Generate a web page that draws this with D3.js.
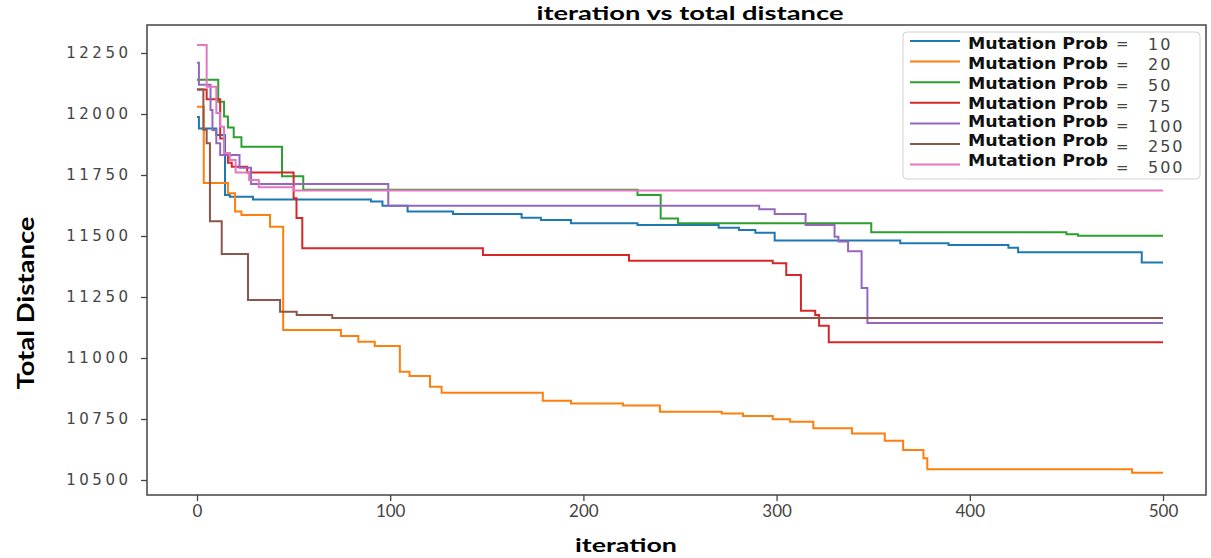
<!DOCTYPE html>
<html>
<head>
<meta charset="utf-8">
<script src="https://cdn.jsdelivr.net/npm/d3@7"></script>
<style>
  body { margin: 0; background: #fff; }
  svg { display: block; }
</style>
</head>
<body>
<div id="chart-area"></div>
<script>
// best total distance per run, as [iteration, distance] at each step down
const mp10 = [[0,11988],[1,11941],[10,11914],[14.5,11668],[17,11661],[29,11650],[90,11641],[96,11624],[109,11600],[132.5,11590],[168,11575],[178,11566],[193.6,11552],[228,11545],[270,11534],[280.5,11525],[289,11513],[299,11482],[364,11470],[389,11463],[420,11452],[425,11433],[489,11391],[500,11391]];
const mp20 = [[0,12030],[3.5,11717],[16,11675],[19.7,11600],[23,11586],[37.8,11538],[44.6,11115],[74.5,11090],[83.5,11067],[92,11049],[105,10944],[110,10926],[120.6,10882],[126.6,10858],[179,10825],[193.6,10814],[220.5,10805],[239.6,10780],[271.6,10773],[282.6,10762],[298,10749],[307,10739],[319,10712],[339,10691],[356,10661],[365.5,10623],[376,10589],[378,10544],[484,10530],[500,10530]];
const mp50 = [[0,12140],[11,12050],[14,11990],[16,11945],[19,11905],[23,11866],[44,11745],[55,11690],[228,11668],[240,11572],[249,11552],[349,11515],[450,11507],[456,11501],[500,11501]];
const mp75 = [[0,12100],[5,12060],[12,11900],[14,11840],[16,11800],[18,11784],[26,11760],[50,11655],[51.5,11574],[54.5,11450],[148,11422],[223.6,11399],[298,11388],[305,11340],[312.6,11194],[320,11176],[322,11132],[327,11065],[500,11065]];
const mp100 = [[0,12210],[1,12120],[7,12016],[8,11934],[10,11880],[12,11832],[22,11780],[28,11713],[99,11624],[291,11610],[299,11590],[315,11545],[330,11497],[332,11477],[337,11438],[344,11287],[347,11143],[500,11143]];
const mp250 = [[0,12100],[3.3,11935],[5,11880],[6.7,11560],[12.8,11426],[26.4,11238],[43,11190],[51.6,11176],[70,11164],[500,11164]];
const mp500 = [[0,12283],[5,12112],[10,12004],[12,11948],[14,11840],[17,11811],[20,11760],[27,11730],[32,11700],[50,11686],[500,11686]];

const series = [mp10, mp20, mp50, mp75, mp100, mp250, mp500];
const probs = [10, 20, 50, 75, 100, 250, 500];

const xTicks = [0, 100, 200, 300, 400, 500];
const yTicks = [10500, 10750, 11000, 11250, 11500, 11750, 12000, 12250];

const W = 1211, H = 558;
const frame = {left: 147, top: 25, right: 1206, bottom: 495};

const svg = d3.select("#chart-area")
  .append("svg")
    .attr("width", W)
    .attr("height", H);

svg.append("rect").attr("width", W).attr("height", H).attr("fill", "#fff");

const x = d3.scaleLinear().domain([0, 500]).range([197, 1163]);
const y = d3.scaleLinear().domain([10500, 12250]).range([480, 53]);

const colours = d3.scaleOrdinal().domain(probs).range(d3.schemeCategory10);

svg.append("clipPath").attr("id", "plot-clip")
  .append("rect")
    .attr("x", frame.left).attr("y", frame.top)
    .attr("width", frame.right - frame.left)
    .attr("height", frame.bottom - frame.top);

// lines
const line = d3.line()
  .curve(d3.curveStepAfter)
  .x(d => x(d[0]))
  .y(d => y(d[1]));

svg.append("g")
  .attr("clip-path", "url(#plot-clip)")
  .selectAll("path")
  .data(series)
  .join("path")
    .attr("d", line)
    .attr("fill", "none")
    .attr("stroke", (d, i) => colours(probs[i]))
    .attr("stroke-width", 2)
    .attr("stroke-linejoin", "miter");

// Y axis
const yAxis = svg.append("g")
  .attr("transform", `translate(${frame.left},0)`)
  .call(d3.axisLeft(y).tickValues(yTicks).tickSize(6).tickPadding(9.5).tickFormat(d3.format("d")));
yAxis.select(".domain").remove();
yAxis.selectAll("line").attr("stroke", "#444").attr("stroke-width", 1.3);
yAxis.selectAll("text")
  .attr("font-family", "DejaVu Sans")
  .attr("font-size", 15)
  .attr("letter-spacing", "3.5px")
  .attr("fill", "#444");

// X axis
const xAxis = svg.append("g")
  .attr("transform", `translate(0,${frame.bottom})`)
  .call(d3.axisBottom(x).tickValues(xTicks).tickSize(6).tickPadding(4));
xAxis.select(".domain").remove();
xAxis.selectAll("line").attr("stroke", "#444").attr("stroke-width", 1.3);
xAxis.selectAll("text")
  .attr("font-family", "Lato")
  .attr("font-size", 17)
  .attr("fill", "#444");

// frame
svg.append("rect")
  .attr("x", frame.left).attr("y", frame.top)
  .attr("width", frame.right - frame.left)
  .attr("height", frame.bottom - frame.top)
  .attr("fill", "none")
  .attr("stroke", "#444")
  .attr("stroke-width", 1.5);

// titles
svg.append("text")
  .attr("x", 690).attr("y", 20)
  .attr("text-anchor", "middle")
  .attr("font-family", "Lato")
  .attr("font-weight", "bold")
  .attr("font-size", 18)
  .attr("textLength", 307)
  .attr("lengthAdjust", "spacingAndGlyphs")
  .text("iteration vs total distance");

svg.append("text")
  .attr("x", 626).attr("y", 552)
  .attr("text-anchor", "middle")
  .attr("font-family", "Lato")
  .attr("font-weight", "bold")
  .attr("font-size", 18)
  .attr("textLength", 102)
  .attr("lengthAdjust", "spacingAndGlyphs")
  .text("iteration");

svg.append("text")
  .attr("transform", "translate(34,303) rotate(-90)")
  .attr("text-anchor", "middle")
  .attr("font-family", "Lato")
  .attr("font-weight", "bold")
  .attr("font-size", 23)
  .attr("textLength", 173)
  .attr("lengthAdjust", "spacingAndGlyphs")
  .text("Total Distance");

// Legend
const legend = svg.append("g");
legend.append("rect")
  .attr("x", 903).attr("y", 32)
  .attr("width", 297).attr("height", 147)
  .attr("rx", 4)
  .attr("fill", "#fff")
  .attr("fill-opacity", 0.8)
  .attr("stroke", "#d0d0d0");

probs.forEach((p, i) => {
  const ly = 41 + i * 20.6;
  const wide = p >= 100;
  const row = legend.append("g");

  row.append("line")
    .attr("x1", 910).attr("x2", 960)
    .attr("y1", ly).attr("y2", ly)
    .attr("stroke", colours(p))
    .attr("stroke-width", 2);

  // label sits a little above its key on the 3-digit rows, as in the original
  row.append("text")
    .attr("x", 968).attr("y", 44 + i * 19.7 - (wide ? 1.5 : 0))
    .attr("dy", "0.36em")
    .attr("font-family", "DejaVu Sans")
    .attr("font-weight", "bold")
    .attr("font-size", 15)
    .attr("textLength", 140)
    .attr("lengthAdjust", "spacingAndGlyphs")
    .attr("fill", "#111")
    .text("Mutation Prob");

  const vy = ly + (wide ? 2.5 : 3);
  row.append("text")
    .attr("x", 1116).attr("y", vy)
    .attr("dy", "0.36em")
    .attr("font-family", "DejaVu Sans")
    .attr("font-size", 15)
    .attr("fill", "#444")
    .text("=");

  row.append("text")
    .attr("x", 1148).attr("y", vy)
    .attr("dy", "0.36em")
    .attr("font-family", "DejaVu Sans")
    .attr("font-size", 16)
    .attr("letter-spacing", "2px")
    .attr("fill", "#444")
    .text(p);
});
</script>
</body>
</html>
